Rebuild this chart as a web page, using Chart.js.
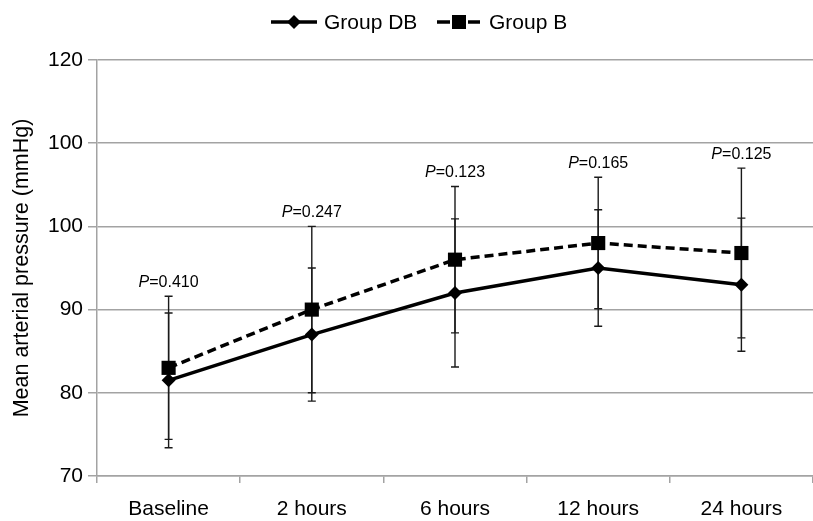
<!DOCTYPE html>
<html lang="en">

<head>
    <meta charset="UTF-8">
    <title>Mean arterial pressure</title>
    <style>
        html, body {
            margin: 0;
            padding: 0;
            overflow: hidden;
            background: #ffffff;
        }

        #chart-container {
            width: 823px;
            height: 521px;
        }
    </style>
</head>

<body>
    <div id="chart-container">
        <canvas id="mapChart"></canvas>
    </div>

    <script src="https://cdn.jsdelivr.net/npm/chart.js"></script>
    <script>
        // data
        const categories = ['Baseline', '2 hours', '6 hours', '12 hours', '24 hours'];
        const groupDB = [81.5, 87.0, 92.0, 95.0, 93.0];
        const groupDBSd = [8.1, 8.0, 8.9, 7.0, 8.0];
        const groupB = [83.0, 90.0, 96.0, 98.0, 96.8];
        const groupBSd = [8.6, 10.0, 8.8, 7.9, 10.2];
        const pValues = ['0.410', '0.247', '0.123', '0.165', '0.125'];
        const yTickValues = [70, 80, 90, 100, 110, 120];
        const yTickLabels = ['70', '80', '90', '100', '100', '120'];

        const FONT = "'Liberation Sans', Arial, sans-serif";
        const GRID = '#a3a3a3';

        Chart.defaults.font.family = FONT;
        Chart.defaults.color = '#000';

        // error bars (drawn under the markers)
        const errorBars = {
            id: 'errorBars',
            beforeDatasetsDraw(chart) {
                const ctx = chart.ctx;
                const x = chart.scales.x, y = chart.scales.y;
                const sets = [[groupDB, groupDBSd], [groupB, groupBSd]];
                ctx.save();
                ctx.strokeStyle = '#1a1a1a';
                ctx.lineWidth = 1.4;
                sets.forEach(([means, sds]) => {
                    means.forEach((m, i) => {
                        const px = x.getPixelForValue(i);
                        const top = y.getPixelForValue(m + sds[i]);
                        const bot = y.getPixelForValue(m - sds[i]);
                        ctx.beginPath();
                        ctx.moveTo(px, top); ctx.lineTo(px, bot);
                        ctx.moveTo(px - 4, top); ctx.lineTo(px + 4, top);
                        ctx.moveTo(px - 4, bot); ctx.lineTo(px + 4, bot);
                        ctx.stroke();
                    });
                });
                ctx.restore();
            }
        };

        // P value labels above each time point
        const pLabels = {
            id: 'pLabels',
            afterDatasetsDraw(chart) {
                const ctx = chart.ctx;
                const x = chart.scales.x, y = chart.scales.y;
                ctx.save();
                ctx.fillStyle = '#000';
                ctx.textBaseline = 'alphabetic';
                pValues.forEach((p, i) => {
                    const topVal = Math.max(groupDB[i] + groupDBSd[i], groupB[i] + groupBSd[i]);
                    const base = y.getPixelForValue(topVal) - 9;
                    const italic = 'italic 16px ' + FONT;
                    const normal = '16px ' + FONT;
                    ctx.font = italic;
                    const w1 = ctx.measureText('P').width;
                    ctx.font = normal;
                    const w2 = ctx.measureText('=' + p).width;
                    const left = x.getPixelForValue(i) - (w1 + w2) / 2;
                    ctx.textAlign = 'left';
                    ctx.font = italic;
                    ctx.fillText('P', left, base);
                    ctx.font = normal;
                    ctx.fillText('=' + p, left + w1, base);
                });
                ctx.restore();
            }
        };

        // legend at the top: line + marker + label
        const lineLegend = {
            id: 'lineLegend',
            afterDraw(chart) {
                const ctx = chart.ctx;
                const cy = 22;
                ctx.save();
                ctx.strokeStyle = '#000';
                ctx.fillStyle = '#000';
                ctx.lineWidth = 3.5;

                // Group DB
                ctx.beginPath();
                ctx.moveTo(271, cy); ctx.lineTo(317, cy);
                ctx.stroke();
                ctx.beginPath();
                ctx.moveTo(294 - 7, cy); ctx.lineTo(294, cy - 7);
                ctx.lineTo(294 + 7, cy); ctx.lineTo(294, cy + 7);
                ctx.closePath();
                ctx.fill();

                // Group B
                ctx.beginPath();
                ctx.moveTo(437, cy); ctx.lineTo(450, cy);
                ctx.moveTo(468, cy); ctx.lineTo(480, cy);
                ctx.stroke();
                ctx.fillRect(459 - 7, cy - 7, 14, 14);

                ctx.font = '21px ' + FONT;
                ctx.textBaseline = 'middle';
                ctx.textAlign = 'left';
                ctx.fillText('Group DB', 324, cy + 1);
                ctx.fillText('Group B', 489, cy + 1);
                ctx.restore();
            }
        };

        document.addEventListener('DOMContentLoaded', function () {
            const ctx = document.getElementById('mapChart').getContext('2d');
            new Chart(ctx, {
                type: 'line',
                data: {
                    labels: categories,
                    datasets: [{
                        label: 'Group DB',
                        data: groupDB,
                        borderColor: '#000',
                        backgroundColor: '#000',
                        borderWidth: 3.5,
                        pointStyle: 'rectRot',
                        pointRadius: 7,
                        pointBorderWidth: 0,
                        tension: 0
                    }, {
                        label: 'Group B',
                        data: groupB,
                        borderColor: '#000',
                        backgroundColor: '#000',
                        borderWidth: 3.5,
                        borderDash: [9, 5],
                        pointStyle: 'rect',
                        pointRadius: 10,
                        pointBorderWidth: 0,
                        tension: 0
                    }]
                },
                options: {
                    responsive: true,
                    maintainAspectRatio: false,
                    animation: false,
                    layout: {
                        padding: { top: 60, left: 0, right: 0, bottom: 0 }
                    },
                    plugins: {
                        legend: { display: false },
                        tooltip: { enabled: false }
                    },
                    scales: {
                        x: {
                            offset: true,
                            afterFit(scale) { scale.height = 45; },
                            grid: {
                                offset: true,
                                drawOnChartArea: false,
                                drawTicks: true,
                                tickLength: 7,
                                color: GRID,
                                lineWidth: 1.5
                            },
                            border: { color: GRID, width: 1.5 },
                            ticks: {
                                font: { size: 21 },
                                padding: 14,
                                maxRotation: 0
                            }
                        },
                        y: {
                            min: 70,
                            max: 120,
                            afterFit(scale) { scale.width = 97; },
                            afterBuildTicks(scale) {
                                scale.ticks = yTickValues.map(v => ({ value: v }));
                            },
                            grid: {
                                color: GRID,
                                lineWidth: 1.5,
                                tickLength: 9
                            },
                            border: { color: GRID, width: 1.5 },
                            ticks: {
                                font: { size: 21 },
                                padding: 5,
                                callback: function (value) {
                                    const i = yTickValues.indexOf(value);
                                    return i >= 0 ? yTickLabels[i] : '';
                                }
                            },
                            title: {
                                display: true,
                                text: 'Mean arterial pressure (mmHg)',
                                font: { size: 21.5 },
                                padding: { top: 9, bottom: 0 }
                            }
                        }
                    }
                },
                plugins: [errorBars, pLabels, lineLegend]
            });
        });
    </script>
</body>

</html>
